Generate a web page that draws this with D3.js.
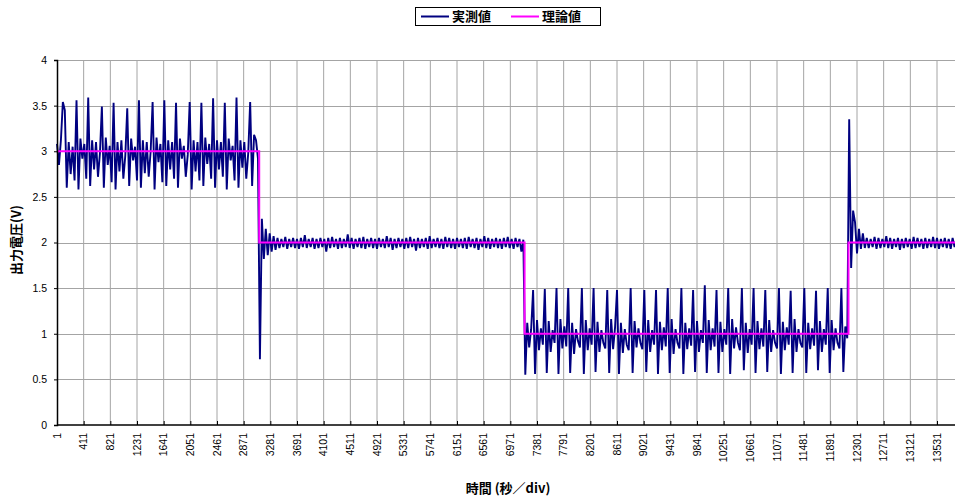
<!DOCTYPE html>
<html>
<head>
<meta charset="utf-8">
<script src="https://cdn.jsdelivr.net/npm/d3@7"></script>
<style>
  body { margin: 0; background: #fff; }
  .chart svg { display: block; }
</style>
</head>
<body>
<div class="chart"></div>
<script>
// category labels along the bottom (every 410 samples)
var xTickLabels = ["1", "411", "821", "1231", "1641", "2051", "2461", "2871", "3281", "3691",
  "4101", "4511", "4921", "5331", "5741", "6151", "6561", "6971", "7381", "7791",
  "8201", "8611", "9021", "9431", "9841", "10251", "10661", "11071", "11481", "11891",
  "12301", "12711", "13121", "13531"];
var yTickLabels = ["0", "0.5", "1", "1.5", "2", "2.5", "3", "3.5", "4"];

// theoretical output (step function)
var theoryIndex = [1, 3110, 3110, 7190, 7190, 12170, 12170, 13900];
var theoryValue = [3, 3, 2, 2, 1, 1, 2, 2];

// measured output, read every 30 samples from the picture
var sampleStep = 30;
var measured3V = [3.08, 2.85, 3.12, 3.54, 3.45, 2.6, 3.1, 2.75, 3.05, 2.68,
  3.56, 2.58, 3.14, 2.92, 3.08, 2.7, 3.59, 2.62, 3.12, 2.8,
  3.1, 2.72, 2.98, 3.49, 2.6, 3.15, 2.85, 3.06, 2.66, 3.53,
  2.58, 3.1, 2.78, 3.12, 2.7, 2.95, 3.47, 2.62, 3.14, 2.9,
  3.05, 2.68, 3.56, 2.6, 3.12, 2.76, 3.1, 2.72, 3.0, 3.54,
  2.58, 3.15, 2.88, 3.08, 2.66, 3.56, 2.62, 3.12, 2.8, 3.1,
  2.7, 3.53, 2.6, 3.14, 2.92, 3.06, 2.72, 2.96, 3.54, 2.58,
  3.12, 2.78, 3.1, 2.68, 3.53, 2.62, 3.15, 2.86, 3.08, 2.7,
  3.58, 2.6, 3.12, 2.8, 3.1, 2.72, 3.53, 2.58, 3.14, 2.9,
  3.06, 2.68, 3.59, 2.6, 3.12, 2.82, 3.1, 2.7, 2.98, 3.54,
  2.62, 3.18, 3.12, 2.92];
var measured2Va = [0.72, 2.26, 1.82, 2.15, 1.86, 2.1, 1.9, 2.07, 1.92,
  2.05, 1.94, 2.04, 1.95, 2.06, 1.93, 2.04, 1.95, 2.05, 1.94,
  2.04, 1.93, 2.05, 1.95, 2.08, 1.94, 2.04, 1.95, 2.05, 1.93,
  2.04, 1.94, 2.05, 1.95, 2.04, 1.9, 2.05, 1.94, 2.06, 1.95,
  2.04, 1.93, 2.05, 1.94, 2.04, 1.95, 2.09, 1.94, 2.05, 1.93,
  2.04, 1.95, 2.05, 1.94, 2.06, 1.93, 2.04, 1.95, 2.05, 1.94,
  2.04, 1.93, 2.05, 1.95, 2.04, 1.94, 2.07, 1.95, 2.05, 1.92,
  2.04, 1.94, 2.05, 1.95, 2.04, 1.93, 2.05, 1.94, 2.06, 1.95,
  2.04, 1.91, 2.05, 1.94, 2.04, 1.95, 2.05, 1.93, 2.07, 1.94,
  2.04, 1.95, 2.05, 1.94, 2.04, 1.93, 2.06, 1.95, 2.05, 1.94,
  2.04, 1.93, 2.05, 1.95, 2.04, 1.94, 2.05, 1.93, 2.06, 1.95,
  2.04, 1.94, 2.05, 1.92, 2.04, 1.95, 2.07, 1.94, 2.05, 1.93,
  2.04, 1.95, 2.05, 1.94, 2.04, 1.93, 2.05, 1.95, 2.06, 1.94,
  2.04, 1.93, 2.05, 1.95, 2.04, 1.9, 2.03];
var measured1V = [0.55, 1.12, 0.85, 1.05, 1.48, 0.56, 1.15, 0.82, 1.06, 0.88,
  1.49, 0.57, 1.14, 0.8, 1.04, 0.9, 1.5, 0.56, 1.16, 0.84,
  1.08, 0.86, 1.5, 0.57, 1.12, 0.78, 1.05, 0.92, 0.85, 1.5,
  0.56, 1.15, 0.82, 1.06, 0.88, 1.5, 0.58, 1.13, 0.8, 1.04,
  0.9, 0.84, 1.48, 0.57, 1.16, 0.83, 1.07, 1.48, 0.56, 1.12,
  0.79, 1.05, 0.88, 0.82, 1.5, 0.57, 1.14, 0.85, 1.06, 0.9,
  0.83, 1.48, 0.58, 1.15, 0.8, 1.04, 0.88, 1.48, 0.56, 1.13,
  0.82, 1.07, 0.86, 1.5, 0.57, 1.16, 0.78, 1.05, 0.9, 0.84,
  1.5, 0.56, 1.12, 0.83, 1.06, 0.87, 1.48, 0.58, 1.14, 0.8,
  1.04, 0.9, 1.53, 0.57, 1.15, 0.82, 1.06, 0.86, 1.48, 0.57,
  1.13, 0.8, 1.05, 0.88, 1.5, 0.56, 1.16, 0.84, 1.07, 0.9,
  0.82, 1.5, 0.6, 1.12, 0.79, 1.05, 0.88, 1.5, 0.57, 1.14,
  0.83, 1.06, 0.86, 1.48, 0.58, 1.15, 0.8, 1.04, 0.9, 0.84,
  1.5, 0.56, 1.13, 0.82, 1.07, 0.88, 1.47, 0.57, 1.16, 0.8,
  1.05, 0.9, 0.85, 1.5, 0.57, 1.12, 0.83, 1.06, 0.87, 1.47,
  0.6, 1.14, 0.8, 1.05, 0.88, 1.5, 0.57, 1.15, 0.82, 1.06,
  0.9, 0.84, 1.5, 0.58, 1.08, 0.95];
var measured2Vb = [3.35, 1.72, 2.35, 2.22, 1.88, 2.15, 1.93, 2.1, 1.94,
  2.05, 1.94, 2.04, 1.95, 2.06, 1.93, 2.05, 1.94, 2.04, 1.95,
  2.07, 1.94, 2.05, 1.93, 2.04, 1.95, 2.05, 1.92, 2.04, 1.94,
  2.05, 1.95, 2.04, 1.93, 2.06, 1.94, 2.05, 1.95, 2.04, 1.93,
  2.05, 1.94, 2.04, 1.95, 2.06, 1.94, 2.05, 1.93, 2.04, 1.95,
  2.05, 1.94, 2.04, 1.93, 2.05, 1.95, 2.04, 1.94, 2.05];

var svgWidth = 955;
var svgHeight = 499;
var margin = { top: 60, left: 57 };
var width = 880;   // distance from first to last category tick
var height = 365;
var plotRight = svgWidth - margin.left; // plot area runs past the picture edge

var font = "'Liberation Sans', 'DejaVu Sans', sans-serif";
var cjk = "'Noto Sans CJK JP', 'Noto Sans', sans-serif";

var svg = d3.select(".chart").append("svg")
  .attr("width", svgWidth)
  .attr("height", svgHeight)
  .style("background", "#fff");

var chart = svg.append("g")
  .attr("transform", "translate(" + margin.left + "," + margin.top + ")");

var xTicks = xTickLabels.map(Number);
var yTicks = yTickLabels.map(Number);

var x = d3.scaleLinear().domain([1, 13531]).range([0, width]);
var y = d3.scaleLinear().domain([0, 4]).range([height, 0]);

// gridlines
chart.append("g").selectAll("line.h")
  .data(yTicks.slice(1))
  .enter().append("line")
  .attr("x1", 0).attr("x2", plotRight)
  .attr("y1", function(d) { return Math.round(y(d)) + 0.5; })
  .attr("y2", function(d) { return Math.round(y(d)) + 0.5; })
  .attr("stroke", "#a4a4a4").attr("stroke-width", 1);

chart.append("g").selectAll("line.v")
  .data(xTicks.slice(1))
  .enter().append("line")
  .attr("x1", function(d) { return x(d); })
  .attr("x2", function(d) { return x(d); })
  .attr("y1", y(4)).attr("y2", height)
  .attr("stroke", "#a4a4a4").attr("stroke-width", 1);

// series
var measured = measured3V.concat(measured2Va, measured1V, measured2Vb)
  .map(function(v, k) { return { i: 1 + sampleStep * k, v: v }; });
var theory = theoryIndex.map(function(d, k) { return { i: d, v: theoryValue[k] }; });

var line = d3.line()
  .x(function(d) { return x(d.i); })
  .y(function(d) { return y(d.v); });

chart.append("path")
  .datum(measured)
  .attr("fill", "none")
  .attr("stroke", "#000080")
  .attr("stroke-width", 1.9)
  .attr("stroke-linejoin", "miter")
  .attr("d", line);

chart.append("path")
  .datum(theory)
  .attr("fill", "none")
  .attr("stroke", "#ff00ff")
  .attr("stroke-width", 2)
  .attr("d", line);

// y axis
var leftAxis = d3.axisLeft(y)
  .tickValues(yTicks)
  .tickSize(3)
  .tickPadding(7)
  .tickFormat(function(d, k) { return yTickLabels[k]; });

var yAxisG = chart.append("g").call(leftAxis);
yAxisG.selectAll("text").style("font-family", font).style("font-size", "10.5px").attr("fill", "#000");
yAxisG.select(".domain").attr("stroke", "#000").attr("stroke-width", 1.5);

// x axis: inside tick marks, rotated labels
var bottomAxis = d3.axisBottom(x)
  .tickValues(xTicks)
  .tickSize(-4)
  .tickFormat("");

var xAxisG = chart.append("g")
  .attr("transform", "translate(0," + height + ")")
  .call(bottomAxis);
xAxisG.select(".domain").remove();
xAxisG.append("line")
  .attr("x1", 0).attr("x2", plotRight)
  .attr("stroke", "#000").attr("stroke-width", 1.5);

chart.append("g").selectAll("text")
  .data(xTickLabels)
  .enter().append("text")
  .attr("transform", function(d) {
    return "translate(" + x(+d) + "," + (height + 8) + ") rotate(-90)";
  })
  .attr("dy", "0.35em")
  .attr("text-anchor", "end")
  .style("font-family", font)
  .style("font-size", "10.5px")
  .text(function(d) { return d; });

// axis titles
svg.append("text")
  .attr("x", 508)
  .attr("y", 493)
  .attr("text-anchor", "middle")
  .style("font-family", cjk)
  .style("font-size", "13px")
  .style("font-weight", "bold")
  .text("時間 (秒／div)");

svg.append("text")
  .attr("transform", "translate(21,240) rotate(-90)")
  .attr("text-anchor", "middle")
  .style("font-family", cjk)
  .style("font-size", "13px")
  .style("font-weight", "bold")
  .text("出力電圧(V)");

// legend
var legend = svg.append("g");
legend.append("rect")
  .attr("x", 415.5).attr("y", 7.5)
  .attr("width", 185).attr("height", 18)
  .attr("fill", "#fff").attr("stroke", "#000").attr("stroke-width", 1);

var legendItems = [
  { name: "実測値", color: "#000080", x: 421 },
  { name: "理論値", color: "#ff00ff", x: 511 }
];
legendItems.forEach(function(item) {
  legend.append("line")
    .attr("x1", item.x).attr("x2", item.x + 28)
    .attr("y1", 16.5).attr("y2", 16.5)
    .attr("stroke", item.color).attr("stroke-width", 2);
  legend.append("text")
    .attr("x", item.x + 31)
    .attr("y", 21)
    .style("font-family", cjk)
    .style("font-size", "13px")
    .style("font-weight", "bold")
    .text(item.name);
});
</script>
</body>
</html>
